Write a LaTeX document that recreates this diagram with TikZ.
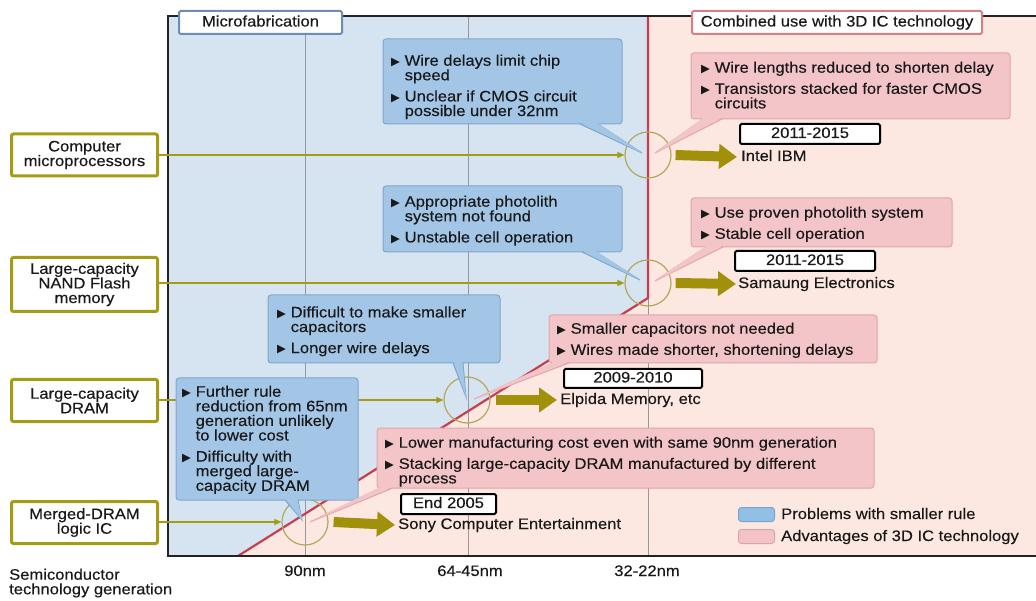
\documentclass[tikz,border=0pt]{standalone}
\usepackage{fontspec}
\setmainfont[FakeStretch=1.09,FakeBold=0.35]{Liberation Sans}
\newfontfamily\symf{DejaVu Sans}
\usetikzlibrary{arrows.meta}
\definecolor{bluebg}{RGB}{214,228,242}
\definecolor{pinkbg}{RGB}{253,231,225}
\definecolor{bluefill}{RGB}{163,198,231}
\definecolor{blueedge}{RGB}{128,166,204}
\definecolor{pinkfill}{RGB}{244,197,200}
\definecolor{pinkedge}{RGB}{222,166,172}
\definecolor{redline}{RGB}{200,62,78}
\definecolor{gridgray}{RGB}{150,152,160}
\definecolor{olivebox}{RGB}{165,155,20}
\definecolor{olivearrow}{RGB}{160,144,10}
\definecolor{circol}{RGB}{178,168,90}
\definecolor{hdrblue}{RGB}{110,140,180}
\definecolor{hdrpink}{RGB}{214,128,134}
\definecolor{txt}{RGB}{25,25,25}
\definecolor{framec}{RGB}{35,35,35}
\definecolor{legblue}{RGB}{146,191,230}
\definecolor{legblueedge}{RGB}{120,165,205}
\definecolor{legpink}{RGB}{243,195,200}
\definecolor{legpinkedge}{RGB}{215,165,172}
\newcommand\fs{\fontsize{15.2}{14.6}\selectfont}
\newcommand\bl{\makebox[13.5pt][l]{\raisebox{0.3pt}{\symf\fontsize{11.5}{11.5}\selectfont ▶}}}
\newcommand\ind{\hspace*{13.5pt}}
% #1 fill, #2 edge, #3 x1, #4 y1, #5 x2, #6 y2, #7 base x a, #8 base x b, #9 tip
\newcommand\callout[9]{%
  \filldraw[fill=#1,draw=#2,line width=1pt] (#7,#6) -- (#9) -- (#8,#6);
  \filldraw[fill=#1,draw=#2,line width=1pt,rounded corners=3pt] (#3,#4) rectangle (#5,#6);
  \fill[#1] (#7+0.8,#6-1.3) -- (#9) -- (#8-0.8,#6-1.3) -- cycle;}
\begin{document}
\begin{tikzpicture}[x=1pt,y=-1pt,
  every node/.style={text=txt,font=\fs},
  lbox/.style={draw=olivebox,line width=3pt,fill=white,rounded corners=2pt,minimum width=146pt,minimum height=42pt,align=center,inner sep=0pt},
  circ/.style={circle,draw=circol,line width=1.2pt,minimum size=46pt,inner sep=0pt},
  conn/.style={draw=olivebox,line width=1.3pt,-{Triangle[length=7pt,width=6pt]}},
  bigarr/.style={draw=olivearrow,line width=10pt,-{Triangle[length=18pt,width=24pt]}},
  ybox/.style={draw=black,line width=2pt,fill=white,rounded corners=1.5pt,minimum height=20pt,inner sep=0pt,text height=11pt,text depth=3pt},
  lab/.style={anchor=west,inner sep=2pt,text height=11pt,text depth=3pt},
  hdr/.style={line width=2pt,fill=white,rounded corners=1.5pt,minimum height=23pt,inner sep=0pt,text height=11pt,text depth=3pt},
  ctext/.style={anchor=north west,inner sep=0pt,align=left},
  sw/.style={line width=1pt,rounded corners=3pt,minimum width=36pt,minimum height=14pt,inner sep=0pt}
]
\useasboundingbox (0,0) rectangle (1036,601);
% backgrounds
\fill[bluebg] (168,16) rectangle (1036,556);
\fill[pinkbg] (648,16) -- (1036,16) -- (1036,556) -- (238,556) -- (648,298) -- cycle;
% generation lines
\draw[gridgray,line width=1pt] (305,16) -- (305,556);
\draw[gridgray,line width=1pt] (468,16) -- (468,556);
\draw[gridgray,line width=1pt] (648,16) -- (648,556);
\draw[redline,line width=2.2pt] (648,16) -- (648,298) -- (238,556);
% frame
\draw[framec,line width=2.5pt] (1036,16) -- (168,16) -- (168,556) -- (1036,556);
% left boxes
\node[lbox] (b1) at (84.5,155) {Computer\\microprocessors};
\node[lbox,minimum height=54pt] (b2) at (84.5,284.5) {Large-capacity\\NAND Flash\\memory};
\node[lbox] (b3) at (84.5,400.5) {Large-capacity\\DRAM};
\node[lbox] (b4) at (84.5,522.5) {Merged-DRAM\\logic IC};
% circles
\node[circ] (c1) at (648,155) {};
\node[circ] (c2) at (648,283) {};
\node[circ] (c3) at (467,400) {};
\node[circ] (c4) at (305,522) {};
% connectors
\draw[conn] (b1.east |- c1.west) -- (c1.west);
\draw[conn] (b2.east |- c2.west) -- (c2.west);
\draw[conn] (b3.east |- c3.west) -- (c3.west);
\draw[conn] (b4.east |- c4.west) -- (c4.west);
% blue callouts
\callout{bluefill}{blueedge}{383}{39}{622}{124}{580}{598}{642,153}
\node[ctext] (t1) at (391,54.5) {\bl Wire delays limit chip\\\ind speed\\[6.5pt]\bl Unclear if CMOS circuit\\\ind possible under 32nm};
\callout{bluefill}{blueedge}{383}{186}{622}{252}{582}{596}{640,280}
\node[ctext] (t2) at (391,195.5) {\bl Appropriate photolith\\\ind system not found\\[6.5pt]\bl Unstable cell operation};
\callout{bluefill}{blueedge}{268}{295}{500}{363}{453}{463}{466,397}
\node[ctext] (t3) at (277,306.2) {\bl Difficult to make smaller\\\ind capacitors\\[6.5pt]\bl Longer wire delays};
\callout{bluefill}{blueedge}{176}{378}{358}{500}{285}{298}{302,520}
\node[ctext] (t4) at (182,385.5) {\bl Further rule\\\ind reduction from 65nm\\\ind generation unlikely\\\ind to lower cost\\[6.5pt]\bl Difficulty with\\\ind merged large-\\\ind capacity DRAM};
% pink callouts
\callout{pinkfill}{pinkedge}{691}{53}{1010}{119}{703}{722}{655,153}
\node[ctext] (p1) at (701,61.5) {\bl Wire lengths reduced to shorten delay\\[6.5pt]\bl Transistors stacked for faster CMOS\\\ind circuits};
\callout{pinkfill}{pinkedge}{691}{198}{952}{247}{706}{723}{655,281}
\node[ctext] (p2) at (701,206.5) {\bl Use proven photolith system\\[6.5pt]\bl Stable cell operation};
\callout{pinkfill}{pinkedge}{549}{315}{877}{363}{553}{569}{474,399}
\node[ctext] (p3) at (557,322.5) {\bl Smaller capacitors not needed\\[6.5pt]\bl Wires made shorter, shortening delays};
\callout{pinkfill}{pinkedge}{377}{428}{874}{488}{380}{393}{310,522}
\node[ctext] (p4) at (385,436.5) {\bl Lower manufacturing cost even with same 90nm generation\\[6.5pt]\bl Stacking large-capacity DRAM manufactured by different\\\ind process};
% year boxes and labels
\node[ybox,minimum width=140pt] (y1) at (810,134) {2011-2015};
\node[lab] (l1) at (739,157) {Intel IBM};
\node[ybox,minimum width=140pt] (y2) at (805,261) {2011-2015};
\node[lab] (l2) at (736,284) {Samaung Electronics};
\node[ybox,minimum width=138pt,minimum height=19pt] (y3) at (633,378.5) {2009-2010};
\node[lab] (l3) at (558,400) {Elpida Memory, etc};
\node[ybox,minimum width=95pt] (y4) at (448.5,504) {End 2005};
\node[lab] (l4) at (396,525) {Sony Computer Entertainment};
% big arrows
\draw[bigarr] ([xshift=4pt]c1.east) -- ([xshift=-2pt]l1.west);
\draw[bigarr] ([xshift=4pt]c2.east) -- ([xshift=0pt]l2.west);
\draw[bigarr] ([xshift=5pt]c3.east) -- ([xshift=-1pt]l3.west);
\draw[bigarr] ([xshift=5pt]c4.east) -- ([xshift=-1pt]l4.west);
% headers
\node[hdr,draw=hdrblue,minimum width=163pt] (h1) at (260.5,22.5) {Microfabrication};
\node[hdr,draw=hdrpink,minimum width=290pt] (h2) at (837,22.5) {Combined use with 3D IC technology};
% legend
\node[sw,fill=legblue,draw=legblueedge] (s1) at (756.5,514.5) {};
\node[sw,fill=legpink,draw=legpinkedge] (s2) at (756.5,536.5) {};
\node[lab] (g1) at (779,515) {Problems with smaller rule};
\node[lab] (g2) at (779,537) {Advantages of 3D IC technology};
% axis
\node[text height=11pt,text depth=3pt,inner sep=0pt] (a1) at (305,572) {90nm};
\node[text height=11pt,text depth=3pt,inner sep=0pt] (a2) at (470,572) {64-45nm};
\node[text height=11pt,text depth=3pt,inner sep=0pt] (a3) at (647,572) {32-22nm};
\node[anchor=north west,inner sep=0pt,align=left] (ax) at (9,568.5) {Semiconductor\\technology generation};
\end{tikzpicture}
\end{document}
